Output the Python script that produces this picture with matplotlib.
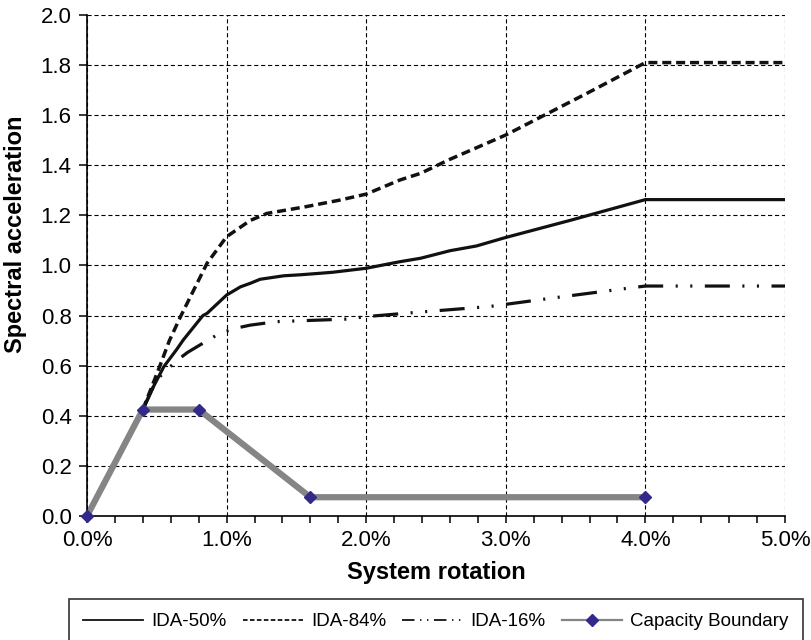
"""Spectral acceleration vs system rotation: IDA fractiles and capacity boundary."""

import matplotlib

matplotlib.use("Agg")

import matplotlib.pyplot as plt
import numpy as np
from matplotlib.lines import Line2D
from matplotlib.ticker import FormatStrFormatter, MultipleLocator

plt.rcParams["font.family"] = ["Liberation Sans", "DejaVu Sans"]
plt.rcParams["lines.scale_dashes"] = False

# system rotation in percent, spectral acceleration in g
ida50_x = [0.40, 0.47, 0.55, 0.64, 0.69, 0.83, 0.86, 1.00, 1.10, 1.17, 1.24, 1.41, 1.53,
           1.67, 1.76, 2.00, 2.24, 2.39, 2.60, 2.79, 3.00, 3.46, 4.00, 5.00]
ida50_y = [0.425, 0.51, 0.596, 0.663, 0.703, 0.80, 0.809, 0.882, 0.915, 0.929, 0.945, 0.959,
           0.963, 0.969, 0.973, 0.989, 1.015, 1.029, 1.059, 1.078, 1.112, 1.180, 1.263, 1.263]

ida84_x = [0.40, 0.46, 0.52, 0.59, 0.67, 0.86, 1.00, 1.17, 1.29, 1.57, 1.81, 2.00, 2.24,
           2.39, 2.60, 3.00, 3.58, 4.00, 5.00]
ida84_y = [0.425, 0.51, 0.596, 0.70, 0.796, 1.009, 1.115, 1.180, 1.208, 1.235, 1.261, 1.285,
           1.341, 1.368, 1.424, 1.521, 1.687, 1.810, 1.810]

ida16_x = [0.40, 0.50, 0.64, 0.72, 0.81, 0.95, 1.06, 1.17, 1.36, 1.86, 2.00, 2.36, 2.88,
           3.00, 3.36, 3.87, 4.00, 5.00]
ida16_y = [0.425, 0.545, 0.619, 0.653, 0.683, 0.729, 0.749, 0.762, 0.776, 0.786, 0.796,
           0.813, 0.836, 0.845, 0.872, 0.909, 0.918, 0.918]

cap_x = [0.0, 0.4, 0.8, 1.6, 4.0]
cap_y = [0.0, 0.425, 0.425, 0.075, 0.075]

labels = ["IDA-50%", "IDA-84%", "IDA-16%", "Capacity Boundary"]

INK = "#111111"
GRAY = "#858585"
NAVY = "#33298a"
DASH = (0, (6.5, 3.5))
DASHDOTDOT = (0, (18, 9, 1.5, 9, 1.5, 9))

W, H = 812, 640
fig = plt.figure(figsize=(W / 100, H / 100), dpi=100)
ax = fig.add_axes([87 / W, 1 - 516 / H, (785 - 87) / W, (516 - 15) / H])

ax.plot(cap_x, cap_y, color=GRAY, lw=4.5, solid_capstyle="butt", zorder=3)
ax.plot(cap_x, cap_y, linestyle="none", marker="D", ms=6.5, color=NAVY, zorder=7,
        clip_on=False)
ax.plot(ida50_x, ida50_y, color=INK, lw=2.3, zorder=4)
ax.plot(ida84_x, ida84_y, color=INK, lw=2.5, linestyle=DASH, zorder=4)
ax.plot(ida16_x, ida16_y, color=INK, lw=2.3, linestyle=DASHDOTDOT, zorder=4)

ax.set_xlim(0, 5)
ax.set_ylim(0, 2.0)
ax.xaxis.set_major_locator(MultipleLocator(1.0))
ax.xaxis.set_minor_locator(MultipleLocator(0.2))
ax.yaxis.set_major_locator(MultipleLocator(0.2))
ax.xaxis.set_major_formatter(FormatStrFormatter("%.1f%%"))
ax.yaxis.set_major_formatter(FormatStrFormatter("%.1f"))

ax.grid(True, which="major", color="black", linestyle=(0, (3, 2)), linewidth=0.8)
ax.set_axisbelow(True)
for side in ("top", "right"):
    ax.spines[side].set_visible(False)
for side in ("left", "bottom"):
    ax.spines[side].set_linewidth(1.2)
    ax.spines[side].set_zorder(6)

ax.tick_params(axis="y", which="major", direction="out", length=6, width=1.1,
               labelsize=16, pad=5)
ax.tick_params(axis="x", which="major", direction="out", length=5, width=1.1,
               labelsize=16, pad=5)
ax.tick_params(axis="x", which="minor", direction="out", length=5, width=1.1)

ax.set_xlabel("System rotation", fontsize=17, fontweight="bold")
ax.xaxis.set_label_coords(0.5, -(572 - 516) / (516 - 15))
ax.xaxis.label.set_verticalalignment("center")
ax.set_ylabel("Spectral acceleration", fontsize=17, fontweight="bold")
ax.yaxis.set_label_coords((16 - 87) / (785 - 87), (516 - 234) / (516 - 15))
ax.yaxis.label.set_verticalalignment("center")

handles = [
    Line2D([], [], color=INK, lw=1.3),
    Line2D([], [], color=INK, lw=1.3, linestyle=(0, (3.3, 1.7))),
    Line2D([], [], color=INK, lw=1.3, linestyle=(0, (9, 4, 1, 4, 1, 4))),
    Line2D([], [], color=GRAY, lw=1.6, marker="D", ms=6, markerfacecolor=NAVY,
           markeredgecolor=NAVY),
]
leg = fig.legend(handles, labels, loc="upper left", bbox_to_anchor=(69 / W, 1 - 599 / H),
                 bbox_transform=fig.transFigure, ncol=4, fontsize=13.5, frameon=True,
                 fancybox=False, borderaxespad=0, borderpad=0.75, handlelength=3.2,
                 handletextpad=0.45, columnspacing=0.85)
leg.get_frame().set_edgecolor("black")
leg.get_frame().set_linewidth(1.2)

fig.savefig("out.png", dpi=100)
